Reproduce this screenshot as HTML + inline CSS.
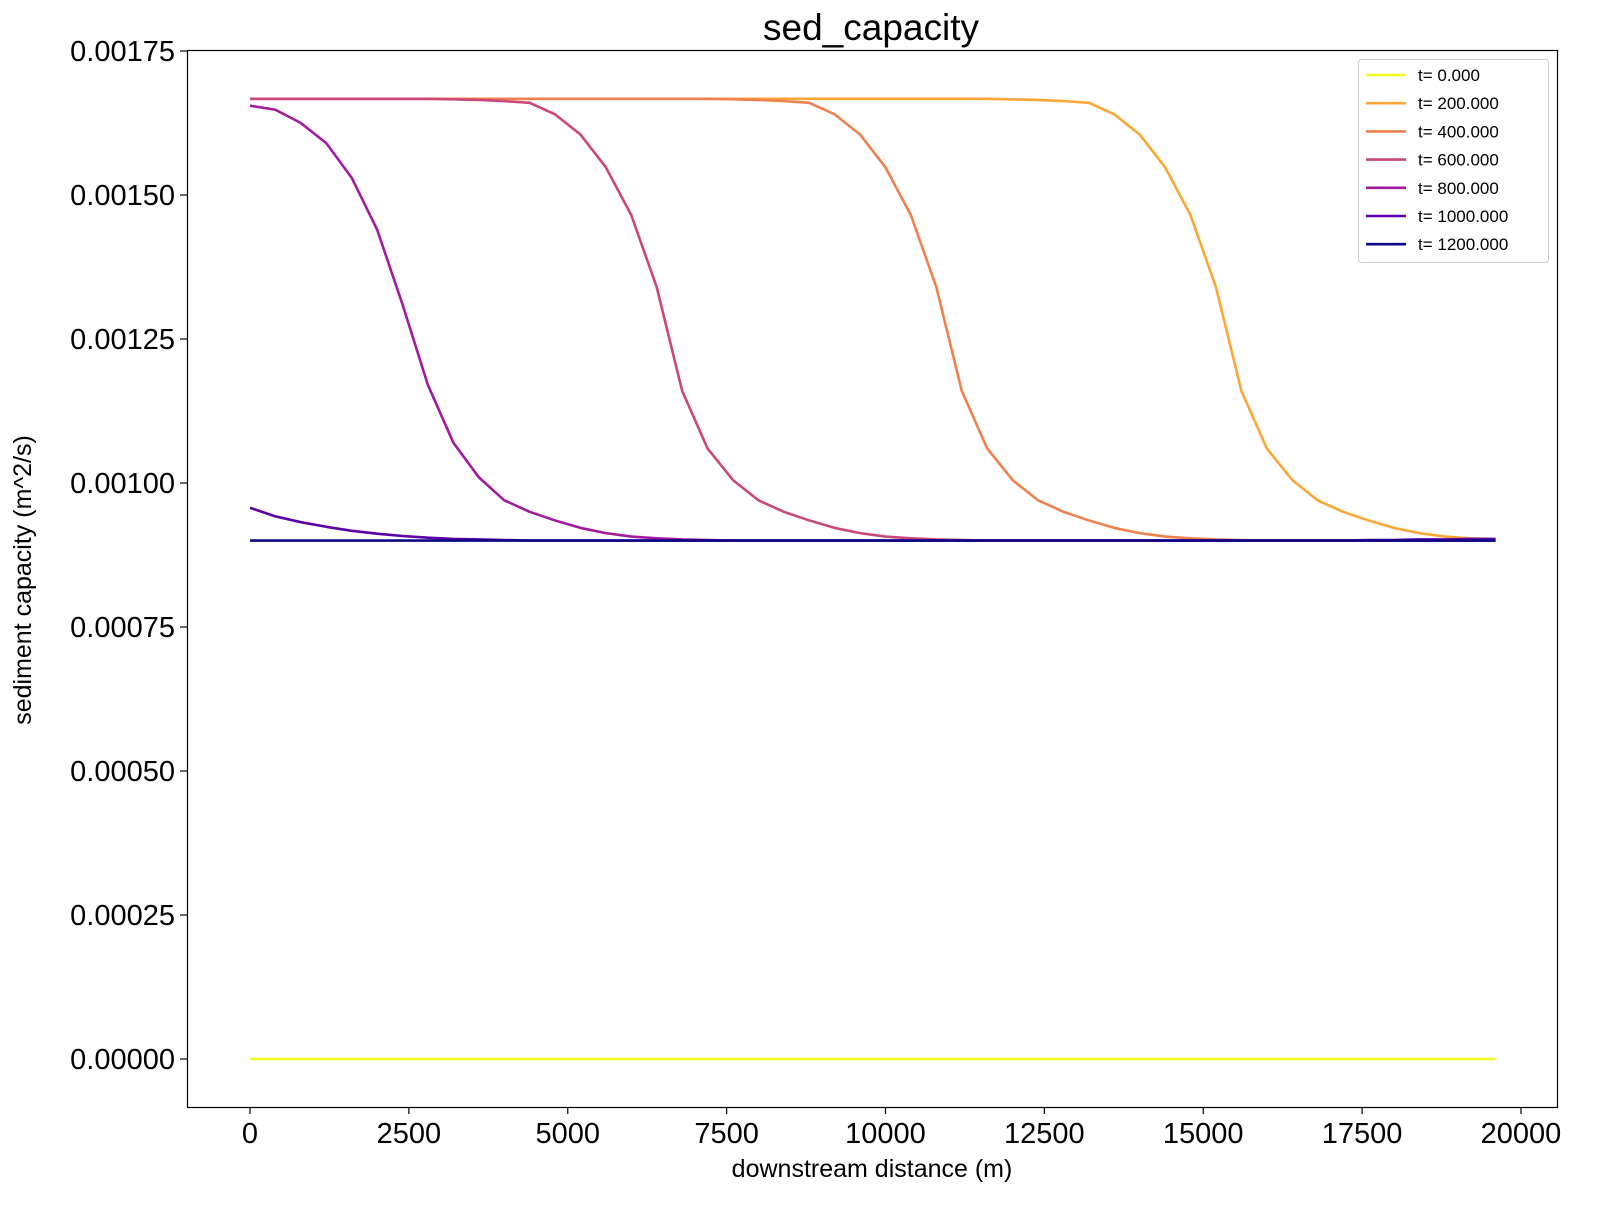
<!DOCTYPE html>
<html><head><meta charset="utf-8"><style>
html,body{margin:0;padding:0;background:#fff;}
svg{display:block;font-family:"Liberation Sans","DejaVu Sans",sans-serif;}
</style></head><body>
<svg id="chart" width="1598" height="1215" viewBox="0 0 1598 1215" xmlns="http://www.w3.org/2000/svg">
<rect width="1598" height="1215" fill="#fff"/>
<text x="871" y="40" text-anchor="middle" font-size="37">sed_capacity</text>
<g id="plot"></g>
<rect x="187.5" y="50.5" width="1370" height="1057" fill="none" stroke="#000" stroke-width="1.2"/>
<g id="xticks"></g><g id="yticks"></g>
<text x="872" y="1177" text-anchor="middle" font-size="25">downstream distance (m)</text>
<text transform="translate(31,580) rotate(-90)" text-anchor="middle" font-size="25">sediment capacity (m^2/s)</text>
<g id="legend"></g>
</svg>
<script>
const xs = [];
for (let i = 0; i < 50; i++) xs.push(i * 400);
const labels = ["t= 0.000","t= 200.000","t= 400.000","t= 600.000","t= 800.000","t= 1000.000","t= 1200.000"];
const colors = ["#f0f921","#fca636","#f0804e","#cc4778","#a31aa0","#5c01a6","#0d0887"];
const A=.001667, Z=.0009;
const t0 = [0,0,0,0,0,0,0,0,0,0,0,0,0,0,0,0,0,0,0,0,0,0,0,0,0,0,0,0,0,0,0,0,0,0,0,0,0,0,0,0,0,0,0,0,0,0,0,0,0,0];
const t200 = [A,A,A,A,A,A,A,A,A,A,A,A,A,A,A,A,A,A,A,A,A,A,A,A,A,A,A,A,A,A,.001666,.001665,.001663,.001660,.001640,.001605,.001548,.001465,.00134,.00116,.00106,.001005,.00097,.00095,.000935,.000922,.000913,.000907,.000904,.000902];
const t400 = [A,A,A,A,A,A,A,A,A,A,A,A,A,A,A,A,A,A,A,.001666,.001665,.001663,.001660,.001640,.001605,.001548,.001465,.00134,.00116,.00106,.001005,.00097,.00095,.000935,.000922,.000913,.000907,.000904,.000902,.000901,Z,Z,Z,Z,Z,Z,Z,Z,Z,Z];
const t600 = [A,A,A,A,A,A,A,A,.001666,.001665,.001663,.001660,.001640,.001605,.001548,.001465,.00134,.00116,.00106,.001005,.00097,.00095,.000935,.000922,.000913,.000907,.000904,.000902,.000901,Z,Z,Z,Z,Z,Z,Z,Z,Z,Z,Z,Z,Z,Z,Z,Z,Z,Z,Z,Z,Z];
const t800 = [.001655,.001648,.001625,.00159,.00153,.00144,.00131,.00117,.00107,.00101,.00097,.00095,.000935,.000922,.000913,.000907,.000904,.000902,.000901,Z,Z,Z,Z,Z,Z,Z,Z,Z,Z,Z,Z,Z,Z,Z,Z,Z,Z,Z,Z,Z,Z,Z,Z,Z,Z,Z,Z,Z,Z,Z];
const t1000 = [.000957,.000942,.000932,.000924,.000917,.000912,.000908,.000905,.000903,.000902,.000901,Z,Z,Z,Z,Z,Z,Z,Z,Z,Z,Z,Z,Z,Z,Z,Z,Z,Z,Z,Z,Z,Z,Z,Z,Z,Z,Z,Z,Z,Z,Z,Z,Z,.000901,.000901,.000902,.000902,.000903,.000903];
const t1200 = [Z,Z,Z,Z,Z,Z,Z,Z,Z,Z,Z,Z,Z,Z,Z,Z,Z,Z,Z,Z,Z,Z,Z,Z,Z,Z,Z,Z,Z,Z,Z,Z,Z,Z,Z,Z,Z,Z,Z,Z,Z,Z,Z,Z,Z,Z,Z,Z,Z,Z];
const series = [t0,t200,t400,t600,t800,t1000,t1200];
const xTickVals = [0,2500,5000,7500,10000,12500,15000,17500,20000];
const yTickVals = [0,0.00025,0.0005,0.00075,0.001,0.00125,0.0015,0.00175];
const yTickLabels = ["0.00000","0.00025","0.00050","0.00075","0.00100","0.00125","0.00150","0.00175"];

const NS="http://www.w3.org/2000/svg";
function X(v){return 250 + v*(1271/20000);}
function Y(v){return 1059 - v*(1008/0.00175);}
function mk(t,a){const e=document.createElementNS(NS,t);for(const k in a)e.setAttribute(k,a[k]);return e;}

const plot=document.getElementById('plot');
series.forEach((s,si)=>{
  const d=s.map((v,i)=>(i?'L':'M')+X(xs[i]).toFixed(2)+' '+Y(v).toFixed(2)).join(' ');
  const p=mk('path',{d:d,fill:'none',stroke:colors[si],'stroke-width':2.6,'stroke-linejoin':'round'});
  
  
  plot.appendChild(p);
});
const xt=document.getElementById('xticks');
xTickVals.forEach(v=>{
  const l=mk('line',{x1:X(v),x2:X(v),y1:1107,y2:1114,stroke:'#000','stroke-width':1.2});
  
  
  xt.appendChild(l);
  const t=mk('text',{x:X(v),y:1143,'text-anchor':'middle','font-size':29});
  
  
  t.textContent=v; xt.appendChild(t);
});
const yt=document.getElementById('yticks');
yTickVals.forEach((v,i)=>{
  const l=mk('line',{x1:180,x2:187,y1:Y(v),y2:Y(v),stroke:'#000','stroke-width':1.2});
  
  
  yt.appendChild(l);
  const t=mk('text',{x:175,y:Y(v)+10,'text-anchor':'end','font-size':29});
  
  
  t.textContent=yTickLabels[i]; yt.appendChild(t);
});
const lg=document.getElementById('legend');
const box=mk('rect',{x:1358.5,y:59.5,width:190,height:203,rx:3,fill:'#fff','fill-opacity':0.8,stroke:'#ccc'});


lg.appendChild(box);
labels.forEach((lab,i)=>{
  const y=75+i*28.2;
  const l=mk('line',{x1:1366,x2:1406,y1:y,y2:y,stroke:colors[i],'stroke-width':2.6});
  
  
  lg.appendChild(l);
  const t=mk('text',{x:1418,y:y+6,'font-size':17});
  
  
  t.textContent=lab; lg.appendChild(t);
});
</script>
</body></html>
